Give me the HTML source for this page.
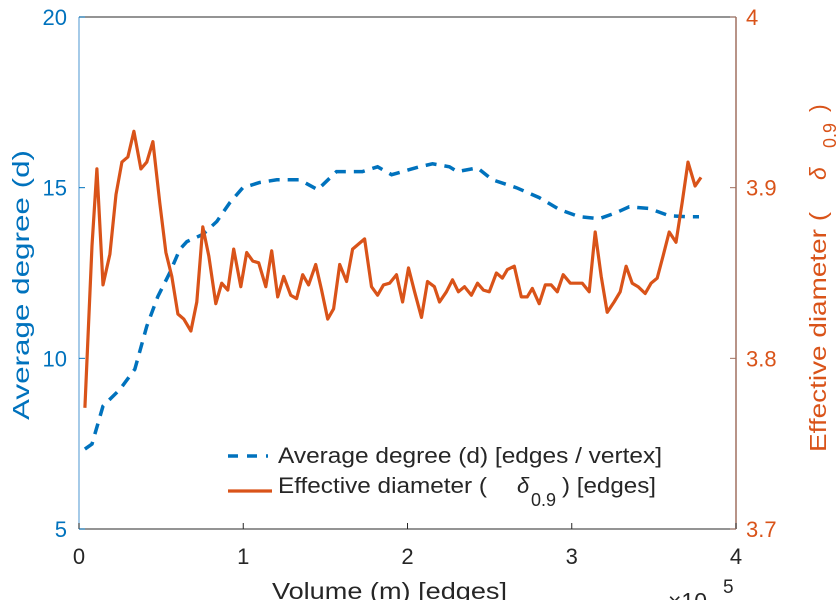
<!DOCTYPE html>
<html><head><meta charset="utf-8">
<style>
html,body{margin:0;padding:0;background:#fff;}
svg{display:block;font-family:"Liberation Sans",Arial,sans-serif;}
</style></head>
<body>
<svg id="chart" width="838" height="600" viewBox="0 0 838 600" style="position:absolute;left:0;top:0">
  <g id="plot"></g>
</svg>
<script>
const volX = [0.036,0.079,0.146,0.249,0.340,0.413,0.480,0.553,0.614,0.657,0.754,0.839,0.918,0.997,1.100,1.204,1.343,1.453,1.568,1.726,1.818,1.903,2.012,2.073,2.152,2.255,2.304,2.426,2.517,2.663,2.802,2.924,3.046,3.167,3.271,3.350,3.471,3.593,3.696,3.775];
const avgDegree = [7.34,7.49,8.60,9.09,9.68,10.94,11.81,12.51,13.19,13.42,13.63,14.01,14.56,15.00,15.15,15.23,15.23,14.94,15.47,15.47,15.61,15.38,15.53,15.61,15.70,15.61,15.47,15.58,15.23,15.00,14.71,14.36,14.15,14.09,14.27,14.44,14.39,14.18,14.15,14.15];
const diamX = [0.036,0.079,0.109,0.146,0.188,0.225,0.261,0.298,0.334,0.377,0.413,0.450,0.492,0.529,0.565,0.602,0.638,0.681,0.717,0.754,0.790,0.833,0.869,0.906,0.942,0.985,1.021,1.058,1.094,1.137,1.173,1.210,1.246,1.289,1.325,1.362,1.398,1.441,1.477,1.514,1.550,1.587,1.629,1.666,1.702,1.739,1.781,1.818,1.854,1.891,1.933,1.970,2.006,2.043,2.085,2.122,2.164,2.195,2.237,2.274,2.310,2.347,2.389,2.426,2.462,2.498,2.541,2.578,2.608,2.650,2.693,2.729,2.760,2.802,2.839,2.875,2.912,2.948,2.991,3.027,3.064,3.106,3.143,3.179,3.216,3.258,3.295,3.331,3.368,3.404,3.447,3.483,3.520,3.556,3.593,3.635,3.672,3.708,3.751,3.787];
const effDiameter = [3.771,3.866,3.911,3.843,3.861,3.896,3.915,3.918,3.933,3.911,3.915,3.927,3.891,3.862,3.848,3.826,3.823,3.816,3.833,3.877,3.860,3.832,3.844,3.840,3.864,3.842,3.862,3.857,3.856,3.842,3.863,3.836,3.848,3.837,3.835,3.849,3.843,3.855,3.840,3.823,3.829,3.855,3.845,3.864,3.867,3.870,3.842,3.837,3.843,3.844,3.849,3.833,3.853,3.839,3.824,3.845,3.842,3.833,3.839,3.846,3.839,3.842,3.837,3.844,3.840,3.839,3.850,3.847,3.852,3.854,3.836,3.836,3.841,3.832,3.843,3.843,3.839,3.849,3.844,3.844,3.844,3.839,3.874,3.848,3.827,3.833,3.839,3.854,3.844,3.842,3.838,3.844,3.847,3.860,3.874,3.868,3.891,3.915,3.901,3.906];
const xTicks = [0,1,2,3,4];
const leftTicks = [5,10,15,20];
const rightTicks = [3.7,3.8,3.9,4];
const rightTickLabels = ["3.7","3.8","3.9","4"];

const L=79, R=736, T=17, B=529;
const BLUE="#0072BD", ORANGE="#D95319";
const sx = v => L + (v-0)/(4-0)*(R-L);
const syL = v => B - (v-5)/(20-5)*(B-T);
const syR = v => B - (v-3.7)/(4-3.7)*(B-T);
const NS="http://www.w3.org/2000/svg";
const g=document.getElementById('plot');
function mk(tag, attrs, parent){const e=document.createElementNS(NS,tag);for(const k in attrs)e.setAttribute(k,attrs[k]);(parent||g).appendChild(e);return e;}

let e;
e=mk('line',{x1:L,y1:B,x2:R,y2:B,stroke:"#555","stroke-width":1.2});


e=mk('line',{x1:L,y1:T,x2:R,y2:T,stroke:"#555","stroke-width":1.2});


e=mk('line',{x1:L,y1:T,x2:L,y2:B,stroke:"#6aa8d8","stroke-width":1.2});


e=mk('line',{x1:R,y1:T,x2:R,y2:B,stroke:"#A07060","stroke-width":1.5});



xTicks.forEach(v=>{
  const x=sx(v);
  const t=mk('line',{x1:x,y1:B,x2:x,y2:B-6,stroke:"#262626"});
  
  
  const l=mk('text',{x:x,y:B+35,"text-anchor":"middle","font-size":22,fill:"#262626"});
  l.textContent=String(v);
  
  
});
leftTicks.forEach(v=>{
  const y=syL(v);
  const t=mk('line',{x1:L,y1:y,x2:L+6,y2:y,stroke:BLUE});
  
  
  const l=mk('text',{x:L-12,y:y+8,"text-anchor":"end","font-size":22,fill:BLUE});
  l.textContent=String(v);
  
  
});
rightTicks.forEach((v,i)=>{
  const y=syR(v);
  const t=mk('line',{x1:R,y1:y,x2:R-6,y2:y,stroke:"#A07060"});
  
  
  const l=mk('text',{x:R+10,y:y+8,"text-anchor":"start","font-size":22,fill:ORANGE});
  l.textContent=rightTickLabels[i];
  
  
});

const blueD = volX.map((x,i)=>(i?'L':'M')+sx(x).toFixed(1)+','+syL(avgDegree[i]).toFixed(1)).join(' ');
e=mk('path',{d:blueD,fill:"none",stroke:BLUE,"stroke-width":3.5,"stroke-dasharray":"11,8"});


const orD = diamX.map((x,i)=>(i?'L':'M')+sx(x).toFixed(1)+','+syR(effDiameter[i]).toFixed(1)).join(' ');
e=mk('path',{d:orD,fill:"none",stroke:ORANGE,"stroke-width":3.2,"stroke-linejoin":"round"});


</script>
<svg style="position:absolute;left:0;top:0" width="838" height="600">
  <g font-family="Liberation Sans, Arial, sans-serif" font-size="22" fill="#262626">
    <line x1="228" y1="456" x2="268" y2="456" stroke="#0072BD" stroke-width="3.5" stroke-dasharray="10,9"/>
    <text x="278" y="463" textLength="384" lengthAdjust="spacingAndGlyphs">Average degree (d) [edges / vertex]</text>
    <line x1="228" y1="491" x2="272" y2="491" stroke="#D95319" stroke-width="3.2"/>
    <text x="278" y="493" textLength="209" lengthAdjust="spacingAndGlyphs">Effective diameter (</text>
    <text x="517" y="493" font-style="italic">δ</text>
    <text x="531" y="506" font-size="18">0.9</text>
    <text x="562" y="493" textLength="94" lengthAdjust="spacingAndGlyphs">) [edges]</text>
  </g>
  <text x="272" y="599" textLength="235" lengthAdjust="spacingAndGlyphs" font-family="Liberation Sans, Arial, sans-serif" font-size="23" fill="#262626">Volume (m) [edges]</text>
  <text x="668" y="609" font-family="Liberation Sans, Arial, sans-serif" font-size="23" fill="#262626">×10</text>
  <text x="723" y="593" font-family="Liberation Sans, Arial, sans-serif" font-size="19" fill="#262626">5</text>
  <text transform="translate(29,420) rotate(-90)" textLength="270" lengthAdjust="spacingAndGlyphs" font-family="Liberation Sans, Arial, sans-serif" font-size="23" fill="#0072BD">Average degree (d)</text>
  <g font-family="Liberation Sans, Arial, sans-serif" font-size="23" fill="#D95319">
    <text transform="translate(826,452) rotate(-90)" textLength="240" lengthAdjust="spacingAndGlyphs">Effective diameter (</text>
    <text transform="translate(826,180) rotate(-90)" font-style="italic">δ</text>
    <text transform="translate(836,148) rotate(-90)" font-size="18">0.9</text>
    <text transform="translate(826,112) rotate(-90)">)</text>
  </g>
</svg>
</body></html>
